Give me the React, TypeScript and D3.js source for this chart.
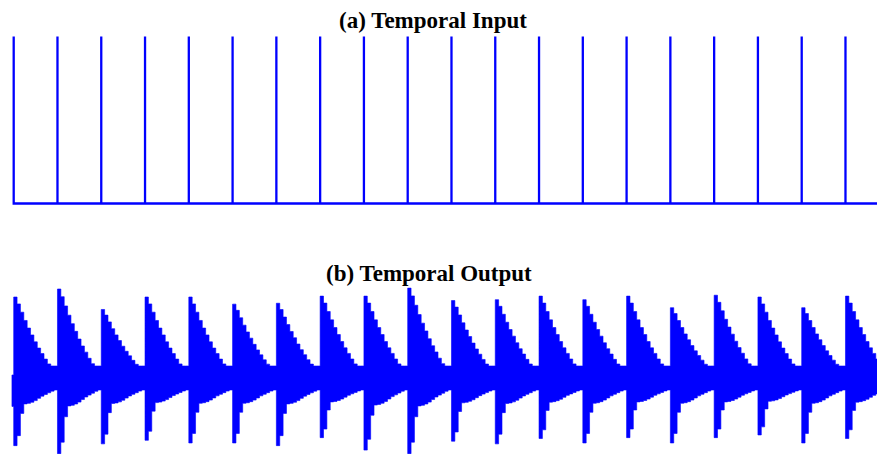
import React from "react";
import * as d3 from "d3";

// ---- data ----
const spikeTimes = [0, 50, 100, 150, 200, 250, 300, 350, 400, 450, 500, 550, 600, 650, 700, 750, 800, 850, 900, 950];
const timeEnd = 986;
// peak of each output burst (upper envelope) and dip (lower envelope)
const burstPeaks = [0.91, 1.0, 0.77, 0.91, 0.91, 0.83, 0.84, 0.92, 0.92, 1.01, 0.87, 0.88, 0.92, 0.88, 0.92, 0.79, 0.93, 0.91, 0.79, 0.92];
const burstDips = [-0.76, -0.85, -0.74, -0.7, -0.73, -0.73, -0.76, -0.67, -0.81, -0.85, -0.71, -0.74, -0.68, -0.73, -0.67, -0.73, -0.67, -0.64, -0.73, -0.68];
// resting oscillation level between bursts
const restTop = 0.135;
const restBottom = -0.135;
const initialTop = 0.034;
const initialBottom = -0.32;
// decay profile of the envelope within one period (13 steps)
const topDecay = [1, 0.9, 0.78, 0.66, 0.55, 0.45, 0.35, 0.26, 0.18, 0.1, 0.03, 0, 0];
const bottomDecay = [1, 0.82, 0.42, 0.25, 0.24, 0.22, 0.19, 0.15, 0.11, 0.08, 0.05, 0.02, 0];
const titles = ["(a) Temporal Input", "(b) Temporal Output"];

const W = 877;
const H = 454;
const BLUE = "#0000ff";
const FONT = "'Liberation Serif', 'Times New Roman', Times, serif";

export default function App() {
  const x = d3.scaleLinear().domain([0, timeEnd]).range([13.7, 877]);
  const yIn = d3.scaleLinear().domain([0, 1]).range([203.5, 36.5]);
  const yOut = d3.scaleLinear().domain([-1, 1]).range([467, 289]);

  // input impulse train
  const inPts: [number, number][] = [];
  spikeTimes.forEach((t) => {
    inPts.push([t, 0], [t, 1], [t, 0]);
  });
  inPts.push([timeEnd, 0]);
  const inLine = d3
    .line<[number, number]>()
    .x((d) => x(d[0]))
    .y((d) => yIn(d[1]));

  // output envelope samples
  const period = spikeTimes[1] - spikeTimes[0];
  const step = period / topDecay.length;
  const outPts: { t: number; hi: number; lo: number }[] = [];
  outPts.push({ t: -2, hi: initialTop, lo: initialBottom });
  spikeTimes.forEach((t0, i) => {
    const next = i + 1 < spikeTimes.length ? spikeTimes[i + 1] : timeEnd;
    for (let k = 0; ; k++) {
      const t = t0 + k * step;
      if (t >= next - 1e-6) break;
      const kk = Math.min(k, topDecay.length - 1);
      outPts.push({
        t,
        hi: restTop + (burstPeaks[i] - restTop) * topDecay[kk],
        lo: restBottom + (burstDips[i] - restBottom) * bottomDecay[kk],
      });
    }
  });
  const last = outPts[outPts.length - 1];
  outPts.push({ t: timeEnd, hi: last.hi, lo: last.lo });

  const outArea = d3
    .area<{ t: number; hi: number; lo: number }>()
    .x((d) => x(d.t))
    .y0((d) => yOut(d.lo))
    .y1((d) => yOut(d.hi))
    .curve(d3.curveStepAfter);

  return (
    <svg
      width={W}
      height={H}
      style={{ position: "absolute", left: 0, top: 0, background: "#fff" }}
    >
      <rect width={W} height={H} fill="#fff" />
      <text x={339} y={28} fontFamily={FONT} fontWeight="bold" fontSize={23} fill="#000">
        {titles[0]}
      </text>
      <path d={inLine(inPts) ?? ""} fill="none" stroke={BLUE} strokeWidth={2.3} />
      <text x={326} y={281} fontFamily={FONT} fontWeight="bold" fontSize={23} fill="#000">
        {titles[1]}
      </text>
      <path d={outArea(outPts) ?? ""} fill={BLUE} stroke={BLUE} strokeWidth={0.6} />
    </svg>
  );
}
